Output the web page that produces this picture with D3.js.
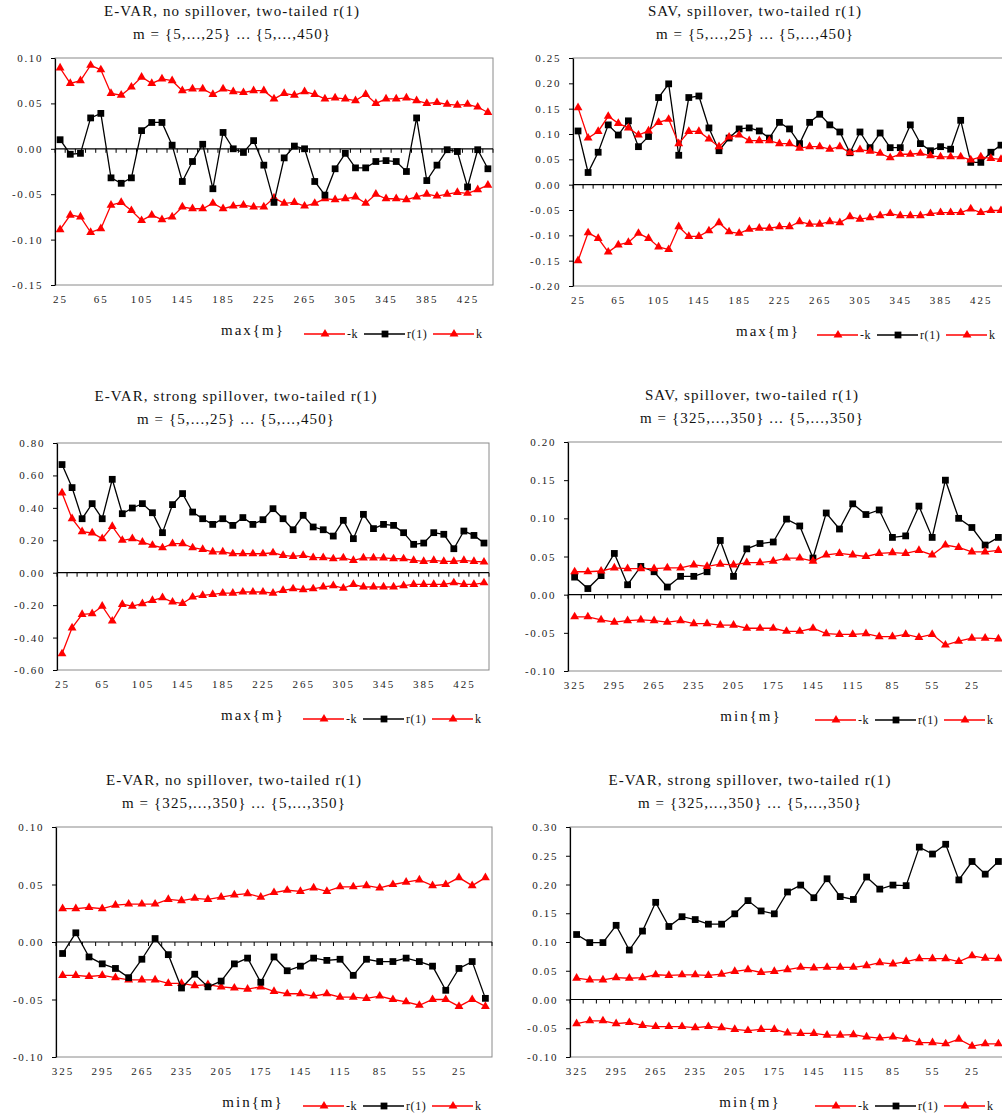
<!DOCTYPE html>
<html>
<head>
<meta charset="utf-8">
<script src="https://cdn.jsdelivr.net/npm/d3@7"></script>
<style>
  body { margin: 0; background: #fff; }
  svg { display: block; font-family: "Liberation Serif", "Times New Roman", serif; }
</style>
</head>
<body>
<svg id="chart" width="1002" height="1118"></svg>
<script>
// Window end points: max{m} grows from 25 to 445, min{m} falls from 325 to 5
const maxM = [25,35,45,55,65,75,85,95,105,115,125,135,145,155,165,175,185,195,205,215,225,235,245,255,265,275,285,295,305,315,325,335,345,355,365,375,385,395,405,415,425,435,445];
const minM = [325,315,305,295,285,275,265,255,245,235,225,215,205,195,185,175,165,155,145,135,125,115,105,95,85,75,65,55,45,35,25,15,5];

// Category tick labels
const maxLabels = [25,65,105,145,185,225,265,305,345,385,425];
const minLabels = [325,295,265,235,205,175,145,115,85,55,25];

// Value-axis tick labels per panel
const yTicks1 = [-0.15,-0.10,-0.05,0,0.05,0.10];
const yTicks2 = [-0.20,-0.15,-0.10,-0.05,0,0.05,0.10,0.15,0.20,0.25];
const yTicks3 = [-0.60,-0.40,-0.20,0,0.20,0.40,0.60,0.80];
const yTicks4 = [-0.10,-0.05,0,0.05,0.10,0.15,0.20];
const yTicks5 = [-0.10,-0.05,0,0.05,0.10];
const yTicks6 = [-0.10,-0.05,0,0.05,0.10,0.15,0.20,0.25,0.30];

// E-VAR, no spillover, max{m}
const p1NegK = [-0.089,-0.073,-0.075,-0.092,-0.088,-0.062,-0.059,-0.068,-0.079,-0.073,-0.078,-0.075,-0.064,-0.066,-0.066,-0.060,-0.066,-0.063,-0.062,-0.064,-0.064,-0.054,-0.060,-0.059,-0.063,-0.060,-0.055,-0.056,-0.055,-0.053,-0.060,-0.050,-0.055,-0.055,-0.056,-0.053,-0.050,-0.052,-0.050,-0.048,-0.049,-0.045,-0.040];
const p1R1 = [0.010,-0.006,-0.005,0.034,0.039,-0.032,-0.038,-0.032,0.020,0.029,0.029,0.004,-0.036,-0.014,0.005,-0.044,0.018,0.000,-0.004,0.009,-0.018,-0.059,-0.010,0.003,0.000,-0.036,-0.051,-0.022,-0.005,-0.021,-0.021,-0.014,-0.013,-0.014,-0.025,0.034,-0.035,-0.018,-0.001,-0.003,-0.042,-0.001,-0.022];
const p1K = [0.089,0.072,0.075,0.092,0.087,0.061,0.059,0.068,0.079,0.072,0.077,0.075,0.064,0.066,0.066,0.060,0.066,0.063,0.062,0.064,0.064,0.055,0.061,0.059,0.063,0.060,0.055,0.056,0.055,0.053,0.060,0.050,0.055,0.055,0.056,0.053,0.050,0.051,0.049,0.048,0.049,0.046,0.040];

// SAV, spillover, max{m}
const p2NegK = [-0.150,-0.095,-0.106,-0.133,-0.119,-0.114,-0.096,-0.106,-0.123,-0.128,-0.083,-0.102,-0.102,-0.091,-0.075,-0.093,-0.096,-0.088,-0.086,-0.086,-0.083,-0.083,-0.073,-0.078,-0.078,-0.073,-0.075,-0.063,-0.068,-0.065,-0.061,-0.057,-0.061,-0.061,-0.061,-0.057,-0.055,-0.055,-0.055,-0.048,-0.055,-0.051,-0.051];
const p2R1 = [0.106,0.024,0.064,0.118,0.098,0.126,0.075,0.095,0.172,0.199,0.058,0.172,0.175,0.112,0.067,0.092,0.110,0.112,0.106,0.092,0.123,0.110,0.081,0.123,0.139,0.118,0.104,0.063,0.104,0.073,0.102,0.073,0.073,0.118,0.081,0.067,0.075,0.070,0.127,0.044,0.044,0.064,0.078];
const p2K = [0.152,0.092,0.105,0.135,0.121,0.112,0.098,0.106,0.123,0.129,0.081,0.105,0.105,0.090,0.075,0.094,0.098,0.087,0.087,0.087,0.081,0.081,0.072,0.075,0.075,0.070,0.075,0.063,0.069,0.066,0.062,0.053,0.060,0.060,0.062,0.057,0.055,0.055,0.055,0.049,0.055,0.052,0.050];

// E-VAR, strong spillover, max{m}
const p3NegK = [-0.500,-0.340,-0.257,-0.253,-0.206,-0.298,-0.195,-0.206,-0.191,-0.171,-0.154,-0.181,-0.189,-0.150,-0.140,-0.134,-0.126,-0.126,-0.119,-0.119,-0.119,-0.126,-0.109,-0.099,-0.105,-0.099,-0.088,-0.080,-0.095,-0.072,-0.088,-0.088,-0.088,-0.088,-0.080,-0.072,-0.072,-0.072,-0.072,-0.062,-0.072,-0.072,-0.062];
const p3R1 = [0.667,0.525,0.333,0.426,0.333,0.576,0.364,0.399,0.426,0.370,0.247,0.420,0.488,0.374,0.333,0.298,0.333,0.292,0.340,0.298,0.327,0.395,0.333,0.265,0.354,0.282,0.265,0.226,0.323,0.210,0.360,0.272,0.298,0.292,0.247,0.175,0.183,0.247,0.237,0.148,0.257,0.230,0.183];
const p3K = [0.492,0.333,0.253,0.245,0.210,0.286,0.200,0.210,0.189,0.169,0.154,0.179,0.179,0.154,0.144,0.128,0.128,0.117,0.117,0.117,0.117,0.123,0.107,0.101,0.107,0.093,0.093,0.086,0.091,0.076,0.091,0.091,0.091,0.086,0.086,0.076,0.070,0.076,0.070,0.070,0.076,0.070,0.066];

// SAV, spillover, min{m}
const p4NegK = [-0.029,-0.029,-0.033,-0.036,-0.034,-0.033,-0.034,-0.036,-0.034,-0.038,-0.038,-0.040,-0.040,-0.044,-0.044,-0.044,-0.048,-0.048,-0.044,-0.051,-0.052,-0.052,-0.051,-0.055,-0.055,-0.052,-0.056,-0.052,-0.066,-0.061,-0.057,-0.057,-0.058];
const p4R1 = [0.023,0.008,0.025,0.054,0.013,0.037,0.030,0.010,0.024,0.024,0.030,0.071,0.024,0.060,0.067,0.069,0.099,0.090,0.048,0.107,0.086,0.119,0.105,0.111,0.075,0.077,0.116,0.075,0.150,0.100,0.088,0.065,0.075];
const p4K = [0.030,0.030,0.031,0.035,0.034,0.034,0.034,0.035,0.035,0.039,0.037,0.040,0.039,0.042,0.042,0.044,0.048,0.048,0.044,0.052,0.054,0.052,0.050,0.054,0.055,0.054,0.058,0.052,0.065,0.062,0.056,0.056,0.058];

// E-VAR, no spillover, min{m}
const p5NegK = [-0.029,-0.029,-0.030,-0.029,-0.031,-0.033,-0.033,-0.033,-0.036,-0.036,-0.038,-0.037,-0.039,-0.040,-0.041,-0.039,-0.043,-0.045,-0.045,-0.047,-0.045,-0.048,-0.048,-0.049,-0.047,-0.050,-0.052,-0.055,-0.050,-0.050,-0.056,-0.050,-0.056];
const p5R1 = [-0.010,0.008,-0.013,-0.019,-0.023,-0.031,-0.015,0.003,-0.011,-0.040,-0.028,-0.039,-0.034,-0.019,-0.014,-0.035,-0.013,-0.025,-0.021,-0.014,-0.016,-0.015,-0.029,-0.015,-0.017,-0.017,-0.014,-0.017,-0.021,-0.042,-0.023,-0.017,-0.049];
const p5K = [0.029,0.029,0.030,0.029,0.032,0.033,0.033,0.033,0.037,0.036,0.038,0.037,0.039,0.041,0.042,0.039,0.043,0.045,0.044,0.047,0.044,0.048,0.048,0.049,0.047,0.050,0.052,0.054,0.049,0.050,0.056,0.049,0.056];

// E-VAR, strong spillover, min{m}
const p6NegK = [-0.042,-0.037,-0.037,-0.042,-0.040,-0.045,-0.047,-0.047,-0.047,-0.049,-0.047,-0.049,-0.052,-0.054,-0.052,-0.052,-0.058,-0.059,-0.059,-0.062,-0.062,-0.061,-0.065,-0.067,-0.065,-0.069,-0.075,-0.075,-0.077,-0.069,-0.081,-0.077,-0.077];
const p6R1 = [0.113,0.099,0.099,0.129,0.086,0.119,0.169,0.127,0.144,0.139,0.131,0.131,0.149,0.172,0.154,0.149,0.187,0.199,0.177,0.210,0.179,0.174,0.213,0.192,0.199,0.198,0.265,0.253,0.270,0.208,0.240,0.218,0.240];
const p6K = [0.037,0.034,0.034,0.038,0.037,0.038,0.043,0.042,0.043,0.043,0.042,0.044,0.049,0.052,0.047,0.049,0.052,0.056,0.055,0.056,0.056,0.056,0.059,0.064,0.062,0.066,0.071,0.071,0.071,0.066,0.076,0.072,0.071];

const RED = "#ff0000", BLACK = "#000000";
const FONT = "'Liberation Serif','Times New Roman',serif";

const panels = [
  { title: ["E-VAR, no spillover, two-tailed r(1)", "m = {5,...,25} ... {5,...,450}"], tx: 232,
    cats: maxM, labels: maxLabels, yt: yTicks1, axisName: "max{m}", ax: 253, lx: 304,
    box: { l: 55, r: 493, t: 58, b: 285 }, series: [p1NegK, p1R1, p1K] },
  { title: ["SAV, spillover, two-tailed r(1)", "m = {5,...,25} ... {5,...,450}"], tx: 755,
    cats: maxM, labels: maxLabels, yt: yTicks2, axisName: "max{m}", ax: 768, lx: 817,
    box: { l: 573, r: 1006, t: 58, b: 286 }, series: [p2NegK, p2R1, p2K] },
  { title: ["E-VAR, strong spillover, two-tailed r(1)", "m = {5,...,25} ... {5,...,450}"], tx: 236,
    cats: maxM, labels: maxLabels, yt: yTicks3, axisName: "max{m}", ax: 253, lx: 303,
    box: { l: 57, r: 489, t: 443, b: 670 }, series: [p3NegK, p3R1, p3K] },
  { title: ["SAV, spillover, two-tailed r(1)", "m = {325,...,350} ... {5,...,350}"], tx: 752,
    cats: minM, labels: minLabels, yt: yTicks4, axisName: "min{m}", ax: 751, lx: 815,
    box: { l: 568, r: 1005, t: 442, b: 671 }, series: [p4NegK, p4R1, p4K] },
  { title: ["E-VAR, no spillover, two-tailed r(1)", "m = {325,...,350} ... {5,...,350}"], tx: 234,
    cats: minM, labels: minLabels, yt: yTicks5, axisName: "min{m}", ax: 253, lx: 303,
    box: { l: 56, r: 492, t: 827, b: 1057 }, series: [p5NegK, p5R1, p5K] },
  { title: ["E-VAR, strong spillover, two-tailed r(1)", "m = {325,...,350} ... {5,...,350}"], tx: 750,
    cats: minM, labels: minLabels, yt: yTicks6, axisName: "min{m}", ax: 750, lx: 815,
    box: { l: 570, r: 1005, t: 827, b: 1057 }, series: [p6NegK, p6R1, p6K] }
];

const seriesStyle = [
  { name: "-k",   color: RED,   sym: d3.symbolTriangle },
  { name: "r(1)", color: BLACK, sym: d3.symbolSquare },
  { name: "k",    color: RED,   sym: d3.symbolTriangle }
];

const svg = d3.select("#chart");

function marker(sym) {
  return d3.symbol().type(sym).size(sym === d3.symbolSquare ? 46 : 34)();
}

function drawPanel(p) {
  const g = svg.append("g");
  const { l, r, t, b } = p.box;

  const x = d3.scalePoint().domain(p.cats).range([l, r]).padding(0.5);
  const y = d3.scaleLinear().domain([p.yt[0], p.yt[p.yt.length - 1]]).range([b, t]);

  // Title, two lines
  p.title.forEach((line, i) => {
    g.append("text")
      .attr("x", p.tx).attr("y", t - 42 + i * 23)
      .attr("text-anchor", "middle")
      .attr("font-size", 15).attr("letter-spacing", "1.1px")
      .attr("fill", "#111").text(line);
  });

  // Plot frame
  g.append("rect")
    .attr("x", l).attr("y", t).attr("width", r - l).attr("height", b - t)
    .attr("fill", "none").attr("stroke", "#8a8a8a").attr("stroke-width", 1);

  // Value axis
  const ya = g.append("g").attr("transform", `translate(${l},0)`)
    .call(d3.axisLeft(y).tickValues(p.yt).tickFormat(d => d.toFixed(2))
      .tickSizeInner(4).tickSizeOuter(0).tickPadding(8));
  ya.select(".domain").attr("stroke", "#000").attr("stroke-width", 1.2);
  ya.selectAll(".tick line").attr("stroke", "#000");
  ya.selectAll("text").attr("font-size", 11).attr("letter-spacing", "1.6px")
    .attr("font-family", FONT).attr("fill", "#222");

  // Zero line with tick marks between categories
  const step = x.step();
  const bounds = p.cats.map(c => x(c) - step / 2).concat([x(p.cats[p.cats.length - 1]) + step / 2]);
  g.append("line").attr("x1", l).attr("x2", r).attr("y1", y(0)).attr("y2", y(0))
    .attr("stroke", "#000").attr("stroke-width", 1.2);
  g.append("g").selectAll("line").data(bounds).join("line")
    .attr("x1", d => d).attr("x2", d => d)
    .attr("y1", y(0)).attr("y2", y(0) + 4)
    .attr("stroke", "#000").attr("stroke-width", 1);

  // Category labels along the bottom
  const xa = g.append("g").attr("transform", `translate(0,${b})`)
    .call(d3.axisBottom(x).tickValues(p.labels).tickSize(0).tickPadding(10));
  xa.select(".domain").remove();
  xa.selectAll("text").attr("font-size", 11).attr("letter-spacing", "2px")
    .attr("font-family", FONT).attr("fill", "#222");

  // Series lines and markers
  p.series.forEach((vals, si) => {
    const st = seriesStyle[si];
    const line = d3.line().x((d, i) => x(p.cats[i])).y(d => y(d));
    g.append("path").datum(vals).attr("d", line)
      .attr("fill", "none").attr("stroke", st.color).attr("stroke-width", 1.3);
    g.append("g").selectAll("path").data(vals).join("path")
      .attr("transform", (d, i) => `translate(${x(p.cats[i])},${y(d)})`)
      .attr("d", marker(st.sym)).attr("fill", st.color);
  });

  // Axis name
  g.append("text").attr("x", p.ax).attr("y", b + 50)
    .attr("text-anchor", "middle").attr("font-size", 15).attr("letter-spacing", "2px")
    .attr("fill", "#111").text(p.axisName);

  // Legend
  const ly = b + 49;
  const offsets = [0, 60, 129];
  seriesStyle.forEach((st, i) => {
    const x0 = p.lx + offsets[i];
    g.append("line").attr("x1", x0).attr("x2", x0 + 41).attr("y1", ly).attr("y2", ly)
      .attr("stroke", st.color).attr("stroke-width", 1.3);
    g.append("path").attr("transform", `translate(${x0 + 21},${ly})`)
      .attr("d", marker(st.sym)).attr("fill", st.color);
    g.append("text").attr("x", x0 + 43).attr("y", ly + 4)
      .attr("font-size", 12).attr("letter-spacing", "0.6px").attr("fill", "#111").text(st.name);
  });
}

panels.forEach(drawPanel);
</script>
</body>
</html>
